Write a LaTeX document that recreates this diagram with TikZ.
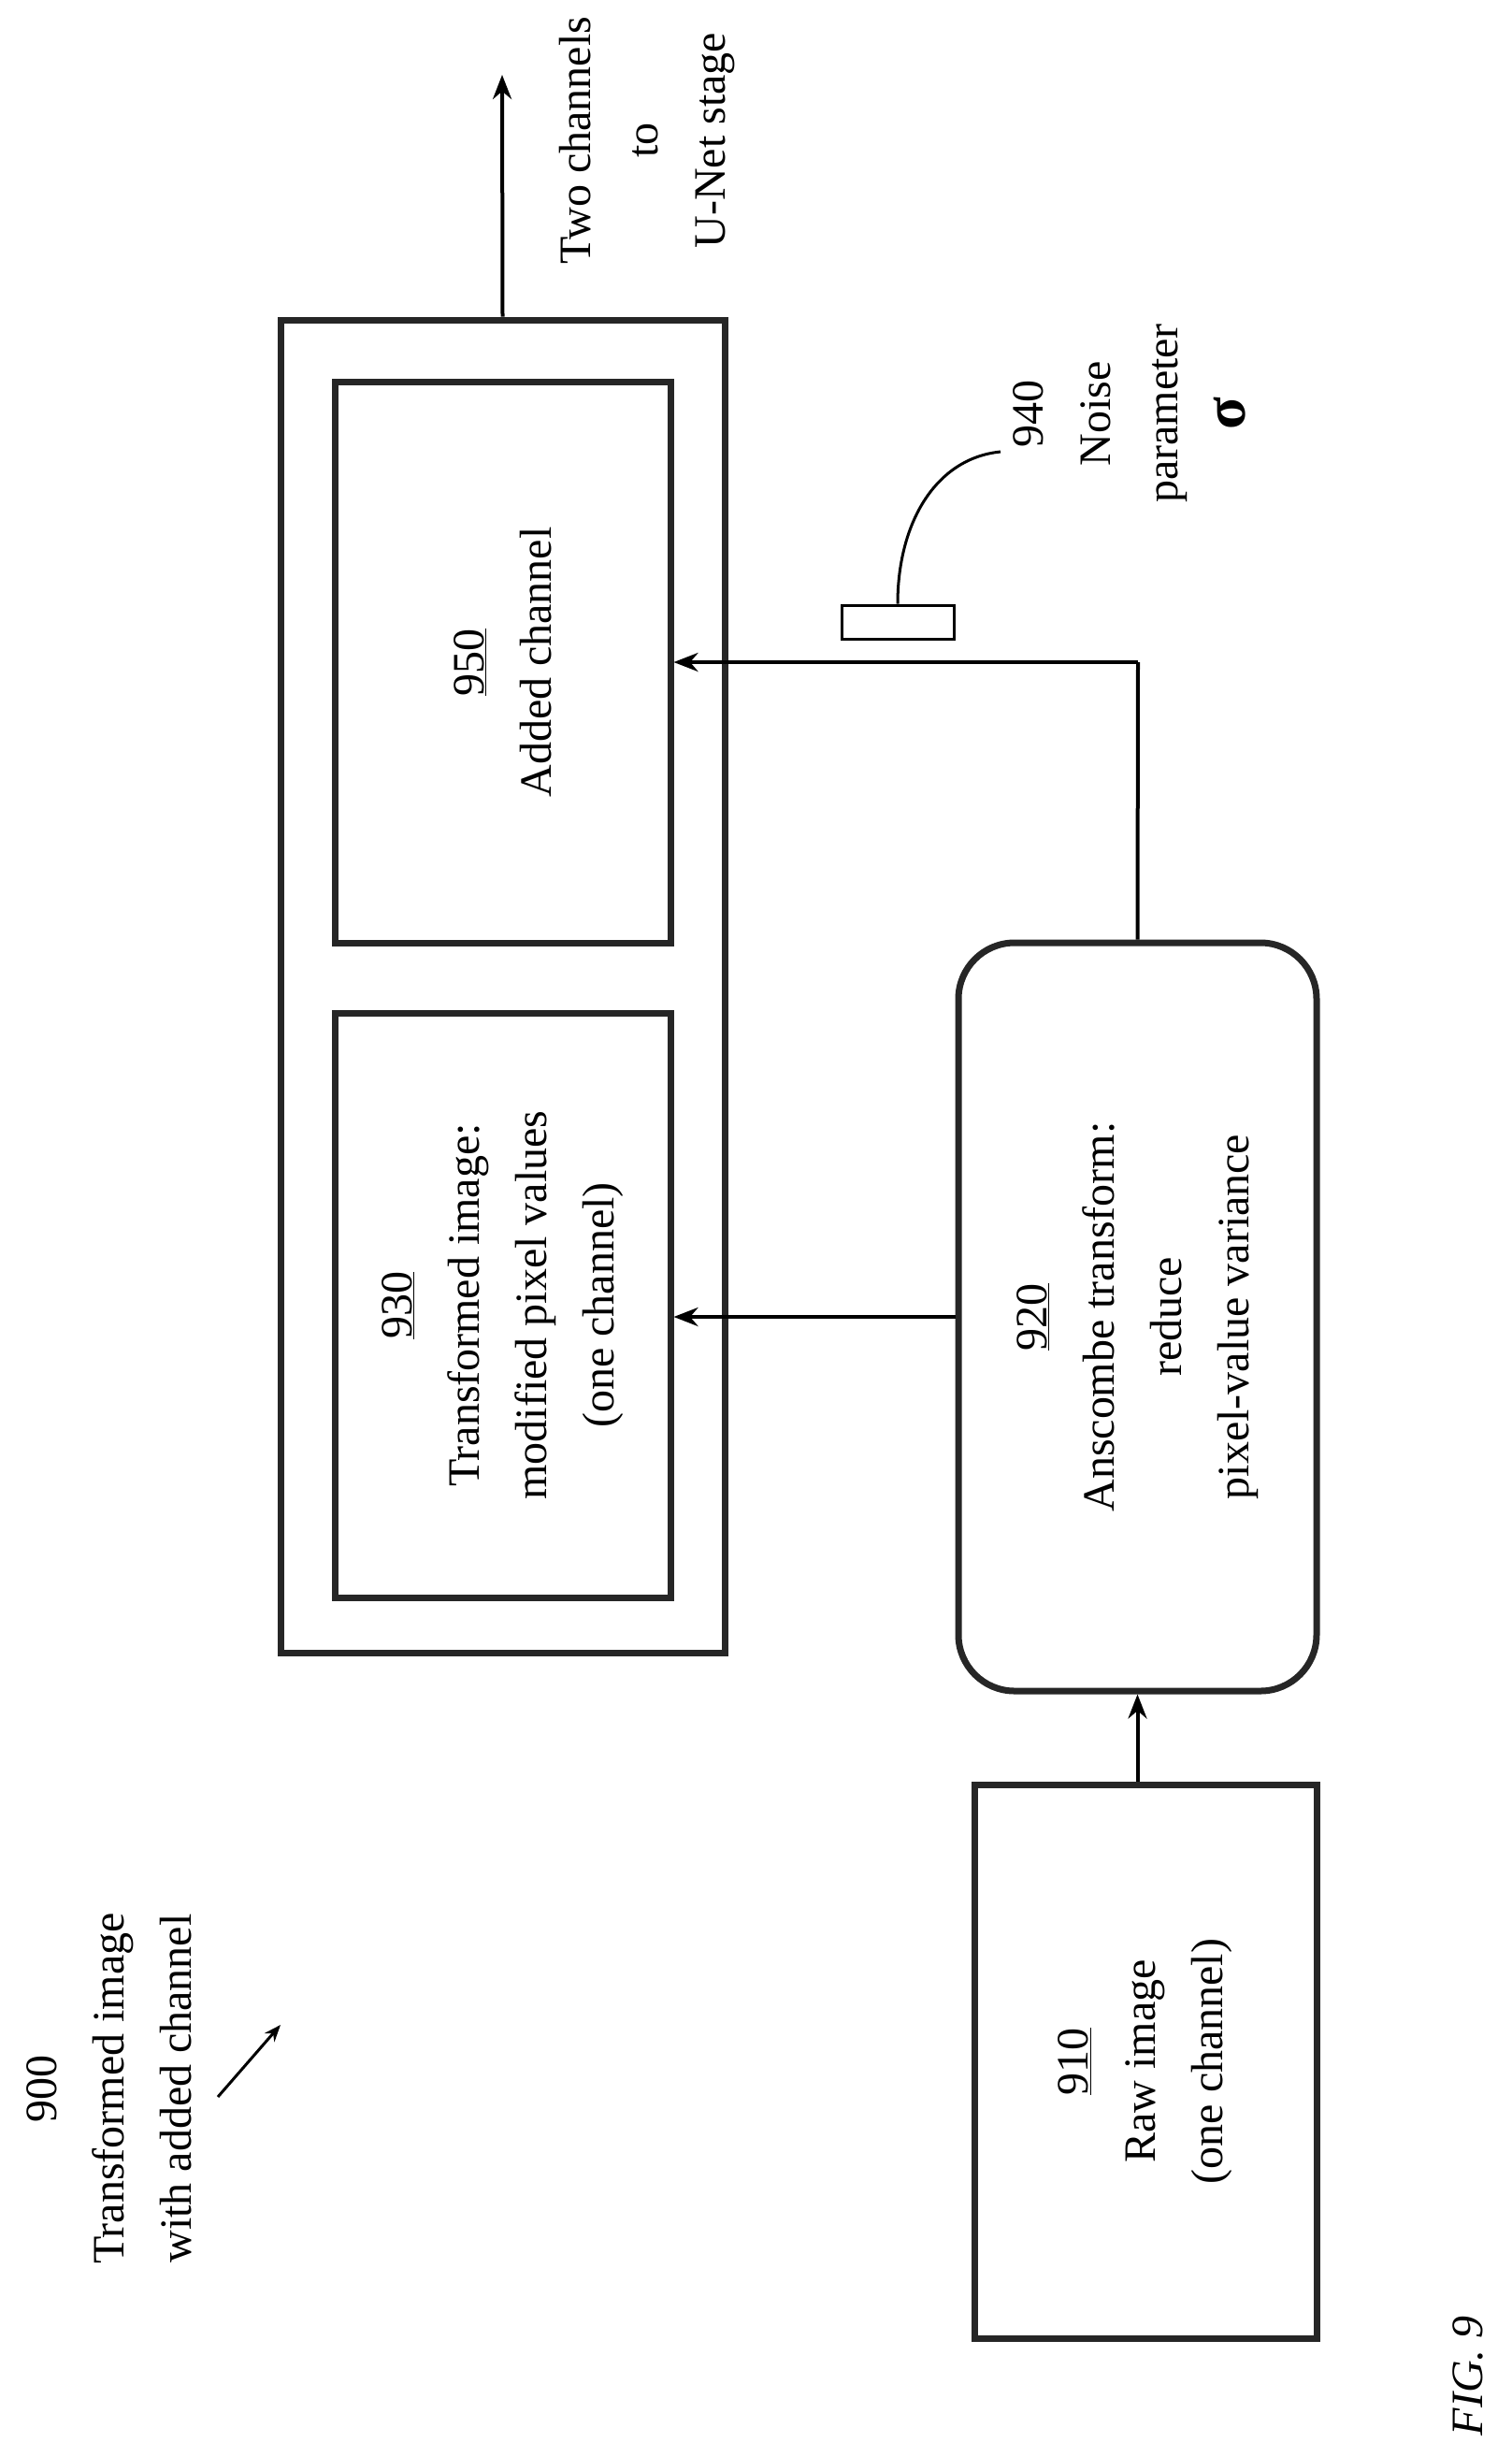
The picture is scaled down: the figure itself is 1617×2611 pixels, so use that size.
\documentclass[tikz,border=0pt]{standalone}
\usepackage{fontspec}
\setmainfont{Liberation Serif}
\usetikzlibrary{arrows.meta}
\begin{document}
\begin{tikzpicture}[x=1pt,y=-1pt,
  box/.style={draw=black!85,line width=7pt,inner sep=0pt},
  txt/.style={rotate=90,align=center,font=\fontsize{48}{72}\selectfont},
  conn/.style={line width=4pt,-{Stealth[length=26pt,width=20pt]}},
  ln/.style={line width=4pt}]
\useasboundingbox (0,0) rectangle (1617,2611);
\node[box,minimum width=475pt,minimum height=1425pt] (outer) at (537.5,1054.5) {};
\node[box,minimum width=359pt,minimum height=600pt] (b950) at (537.5,708) {};
\node[box,minimum width=359pt,minimum height=625pt] (b930) at (537.5,1395.5) {};
\node[box,rounded corners=60pt,minimum width=383pt,minimum height=800pt] (b920) at (1216.5,1408) {};
\node[box,minimum width=366pt,minimum height=592pt] (b910) at (1225,2204) {};
\node[draw,line width=3pt,minimum width=120pt,minimum height=36pt,inner sep=0pt] (r940) at (960,665) {};
\node[txt] (t950) at (b950.center) {\underline{950}\\Added channel};
\node[txt] (t930) at (b930.center) {\underline{930}\\Transformed image:\\modified pixel values\\(one channel)};
\node[txt] (t920) at (b920.center) {\underline{920}\\Anscombe transform:\\reduce\\pixel-value variance};
\node[txt] (t910) at (b910.center) {\underline{910}\\Raw image\\(one channel)};
\node[txt] (tout) at (692,150) {Two channels\\to\\U-Net stage};
\node[txt] (t940) at (1208,442) {940\\Noise\\parameter\\{\fontsize{64}{72}\selectfont\textbf{σ}}};
\node[txt] (t900) at (117,2233) {900\\Transformed image\\with added channel};
\node[txt,font=\itshape\fontsize{48}{72}\selectfont] (fig) at (1570,2540) {FIG. 9};
\coordinate (a1) at (233,2242); \coordinate (a2) at (300,2165);
\coordinate (up) at (537,80);
\coordinate (c1) at (1217,708);
\draw[conn] (b920.south |- b910.north) -- (b920.south);
\draw[conn] (b920.west) -- (b930.east |- b920.west);
\draw[ln] (b920.north) -- (c1);
\draw[conn] (c1) -- (b950.east |- c1);
\draw[conn] (outer.north) -- (up);
\draw[line width=3pt] (r940.north) .. controls (960,560) and (1000,490) .. (1070,483);
\draw[line width=3pt,-{Stealth[length=18pt,width=14pt]}] (a1) -- (a2);
\end{tikzpicture}
\end{document}
